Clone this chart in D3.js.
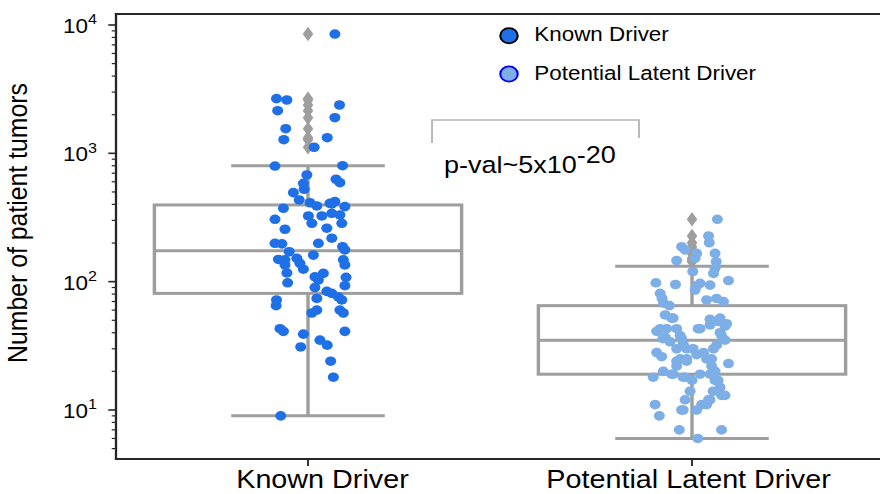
<!DOCTYPE html>
<html>
<head>
<meta charset="utf-8">
<script src="https://cdn.jsdelivr.net/npm/d3@7"></script>
<style>
  body { margin: 0; background: #fff; }
  svg { display: block; }
  text { font-family: "Liberation Sans", Arial, Helvetica, sans-serif; fill: #000; }
</style>
</head>
<body>
<svg id="chart" width="880" height="494"></svg>
<script>
// ---- data -------------------------------------------------------------
const categories = ["Known Driver", "Potential Latent Driver"];

// number of patient tumors per gene, with strip-plot jitter (fraction of band width)
const knownValues = [8500, 2666, 2604, 2149, 2380, 1895, 1556, 1277, 1324, 1115,
  796, 801, 678, 628, 590, 584, 525, 494, 433, 412, 389, 373, 420, 403, 384, 408,
  341, 331, 285, 325, 261, 218, 187, 177, 325, 285, 199, 161, 306, 256, 199, 197,
  171, 149, 148, 152, 139, 125, 135, 117, 98, 109, 116, 103, 90, 148, 135, 108, 93,
  74, 84, 81, 76, 72, 60, 57, 57, 60, 72, 65, 43, 41, 39, 41, 35, 32, 31, 24, 18, 9];
const knownJitter = [0.070, -0.082, -0.055, -0.079, 0.082, 0.070, -0.058, -0.063, 0.050, 0.016,
  -0.086, 0.090, -0.003, 0.073, 0.083, -0.012, -0.010, -0.038, -0.023, 0.005, 0.023, -0.064, 0.070, 0.062, 0.096, 0.057,
  0.062, 0.083, 0.088, 0.036, 0.049, 0.062, 0.090, 0.096, 0.001, 0.010, 0.027, 0.014, -0.086, -0.060, -0.086, -0.068,
  -0.049, -0.077, -0.060, -0.029, -0.021, -0.012, -0.060, -0.055, -0.053, 0.018, 0.040, 0.027, 0.018, 0.092, 0.096, 0.099, 0.096,
  0.023, 0.049, 0.062, 0.079, 0.088, 0.083, 0.092, 0.010, 0.023, -0.082, -0.083, -0.073, -0.064, -0.012, 0.096, 0.031, 0.050, -0.019, 0.059, 0.066, -0.071];

const latentValues = [306, 227, 201, 187, 177, 166, 152, 166, 143, 127, 116, 146, 120,
  98, 95, 93, 97, 94, 102, 86, 81, 74, 68, 72, 74, 70, 65, 55, 52, 51, 52, 43, 41, 43,
  38, 43, 46, 45, 38, 32, 30, 37, 34, 28, 26, 30, 33, 30, 27, 25, 22, 24, 25, 22, 23,
  20, 18, 19, 18, 17, 19, 19, 17, 15, 13, 13, 14, 12, 14, 12, 11, 11, 11, 9, 10, 10,
  7, 7, 6, 36, 43, 52, 36, 30, 43, 49, 47, 40, 35, 24, 25, 28, 25, 20, 19, 18, 17, 12, 10];
const latentJitter = [0.066, 0.043, 0.045, -0.027, -0.018, 0.012, 0.008, 0.060, 0.063, 0.060, 0.056, -0.040, 0.002,
  -0.094, -0.043, 0.012, 0.021, 0.047, 0.095, 0.008, -0.083, -0.078, -0.074, 0.038, 0.064, 0.082, -0.059, -0.070, -0.053, 0.047, 0.073, -0.083, -0.092, -0.040,
  -0.031, 0.016, 0.047, 0.086, 0.077, 0.064, 0.056, -0.070, -0.057, -0.092, -0.079, -0.040, -0.023, 0.003, 0.012, -0.031, -0.040, -0.014, 0.038, 0.051, 0.095,
  -0.075, -0.101, -0.049, -0.018, 0.000, 0.021, 0.047, 0.060, 0.073, 0.077, 0.086, 0.055, 0.047, -0.005, -0.018, 0.038, 0.025, -0.096, -0.085, -0.027, 0.012,
  -0.033, 0.077, 0.015, -0.076, -0.066, -0.049, -0.027, -0.014, 0.021, 0.068, 0.090, 0.073, 0.086, -0.040, -0.014, 0.030, 0.051, 0.060, -0.053, -0.023, 0.068, 0.043, -0.023];

// box-plot summary per category
const boxQ1 = [81, 19];
const boxMedian = [174, 35];
const boxQ3 = [396, 65];
const whiskerLow = [9, 6];
const whiskerHigh = [801, 132];

const yTickValues = [10, 100, 1000, 10000];
const yTickExponents = ["1", "2", "3", "4"];

const pValueBase = "p-val~5x10";
const pValueExponent = "-20";

// ---- layout -----------------------------------------------------------
const SX = 1.15;                       // horizontal stretch of the figure
const W = 880, H = 494;
const plotLeft = 116 / SX, plotRight = 884 / SX, plotTop = 14, plotBottom = 459;

const pointColors = ["#1f6fe6", "#7daee6"];
const legendEdge = ["#000000", "#0000ff"];
const boxColor = "#9e9e9e";
const spineColor = "#262626";

const svg = d3.select("#chart");
const root = svg.append("g").attr("transform", `scale(${SX},1)`);

const x = d3.scaleBand().domain(categories).range([plotLeft, plotRight]).padding(0);
const bw = x.bandwidth();
const cx = c => x(c) + bw / 2;
const xu = d3.scaleLinear().domain([-0.5, 1.5]).range([plotLeft, plotRight]);
const y = d3.scaleLog().domain([4.15, 12180]).range([plotBottom, plotTop]);

// ---- boxes ------------------------------------------------------------
const boxes = categories.map((c, i) => ({
  c, q1: boxQ1[i], med: boxMedian[i], q3: boxQ3[i], lo: whiskerLow[i], hi: whiskerHigh[i]
}));
const gBox = root.append("g").attr("fill", "none").attr("stroke", boxColor).attr("stroke-width", 3);
boxes.forEach(b => {
  const c = cx(b.c);
  gBox.append("rect")
    .attr("x", c - 0.4 * bw).attr("width", 0.8 * bw)
    .attr("y", y(b.q3)).attr("height", y(b.q1) - y(b.q3))
    .attr("fill", "#fff");
  gBox.append("line").attr("x1", c - 0.4 * bw).attr("x2", c + 0.4 * bw)
    .attr("y1", y(b.med)).attr("y2", y(b.med));
  gBox.append("line").attr("x1", c).attr("x2", c).attr("y1", y(b.q3)).attr("y2", y(b.hi));
  gBox.append("line").attr("x1", c).attr("x2", c).attr("y1", y(b.q1)).attr("y2", y(b.lo));
  gBox.append("line").attr("x1", c - 0.2 * bw).attr("x2", c + 0.2 * bw).attr("y1", y(b.hi)).attr("y2", y(b.hi));
  gBox.append("line").attr("x1", c - 0.2 * bw).attr("x2", c + 0.2 * bw).attr("y1", y(b.lo)).attr("y2", y(b.lo));
});

// ---- fliers (thin diamonds) -------------------------------------------
const series = [
  { values: knownValues, jitter: knownJitter },
  { values: latentValues, jitter: latentJitter }
];
const fliers = [];
series.forEach((s, i) => s.values.forEach(v => {
  if (v > whiskerHigh[i] || v < whiskerLow[i]) fliers.push({ c: categories[i], v });
}));
const dh = 7.3, dw = 4.6;
root.append("g").selectAll("path").data(fliers).join("path")
  .attr("d", d => {
    const X = cx(d.c), Y = y(d.v);
    return `M${X},${Y - dh}L${X + dw},${Y}L${X},${Y + dh}L${X - dw},${Y}Z`;
  })
  .attr("fill", boxColor);

// ---- strip points -----------------------------------------------------
series.forEach((s, i) => {
  const pts = s.values.map((v, k) => ({ v, j: s.jitter[k] }));
  root.append("g").selectAll("circle").data(pts).join("circle")
    .attr("cx", d => cx(categories[i]) + d.j * bw)
    .attr("cy", d => y(d.v))
    .attr("r", 4.8)
    .attr("fill", pointColors[i]);
});

// ---- spines -----------------------------------------------------------
const gSp = root.append("g").attr("stroke", spineColor).attr("stroke-width", 2).attr("stroke-linecap", "square");
gSp.append("line").attr("x1", plotLeft).attr("x2", plotRight).attr("y1", plotTop).attr("y2", plotTop);
gSp.append("line").attr("x1", plotLeft).attr("x2", plotRight).attr("y1", plotBottom).attr("y2", plotBottom);
gSp.append("line").attr("x1", plotLeft).attr("x2", plotLeft).attr("y1", plotTop).attr("y2", plotBottom);
gSp.append("line").attr("x1", plotRight).attr("x2", plotRight).attr("y1", plotTop).attr("y2", plotBottom);

// ---- y axis -----------------------------------------------------------
const minorTicks = [];
[1, 10, 100, 1000].forEach(d => {
  for (let k = 2; k <= 9; k++) {
    const v = k * d;
    if (v >= y.domain()[0] && v <= y.domain()[1]) minorTicks.push(v);
  }
});
const gy = root.append("g").attr("stroke", spineColor);
gy.selectAll("line.major").data(yTickValues).join("line").attr("class", "major")
  .attr("x1", plotLeft - 6.7).attr("x2", plotLeft)
  .attr("y1", d => y(d)).attr("y2", d => y(d)).attr("stroke-width", 1.6);
gy.selectAll("line.minor").data(minorTicks).join("line").attr("class", "minor")
  .attr("x1", plotLeft - 3.7).attr("x2", plotLeft)
  .attr("y1", d => y(d)).attr("y2", d => y(d)).attr("stroke-width", 1.2);

const yl = root.append("g").selectAll("text").data(yTickValues).join("text")
  .attr("x", 97 / SX).attr("y", d => y(d) + 8)
  .attr("text-anchor", "end").attr("font-size", 19.5);
yl.append("tspan").text("10");
yl.append("tspan").attr("dy", -8.5).attr("font-size", 14).text((d, i) => yTickExponents[i]);

root.append("text")
  .attr("transform", `translate(${27 / SX},223) rotate(-90)`)
  .attr("text-anchor", "middle").attr("font-size", 24.8)
  .text("Number of patient tumors");

// ---- x axis -----------------------------------------------------------
root.append("g").selectAll("line").data(categories).join("line")
  .attr("x1", d => cx(d)).attr("x2", d => cx(d))
  .attr("y1", plotBottom).attr("y2", plotBottom + 7)
  .attr("stroke", spineColor).attr("stroke-width", 1.6);
const labelNudge = [12.6, -3];
root.append("g").selectAll("text").data(categories).join("text")
  .attr("x", (d, i) => cx(d) + labelNudge[i]).attr("y", 488.5)
  .attr("text-anchor", "middle").attr("font-size", 25)
  .text(d => d);

// ---- significance bracket ---------------------------------------------
root.append("path")
  .attr("d", `M${xu(0.323)},${y(1204)}V${y(1820)}H${xu(0.862)}V${y(1318)}`)
  .attr("fill", "none").attr("stroke", "#b4b4b4").attr("stroke-width", 1.6);
const pt = root.append("text").attr("x", xu(0.354)).attr("y", y(698)).attr("font-size", 23.5);
pt.append("tspan").text(pValueBase);
pt.append("tspan").attr("dy", -10.6).text(pValueExponent);

// ---- legend -----------------------------------------------------------
const lg = root.append("g");
categories.forEach((c, i) => {
  const ly = [35.7, 74][i];
  lg.append("circle").attr("cx", 509 / SX).attr("cy", ly).attr("r", 7.6)
    .attr("fill", pointColors[i]).attr("stroke", legendEdge[i]).attr("stroke-width", 1.8);
  lg.append("text").attr("x", 534.3 / SX).attr("y", ly + 5.8).attr("font-size", 19.5).text(c);
});
</script>
</body>
</html>
